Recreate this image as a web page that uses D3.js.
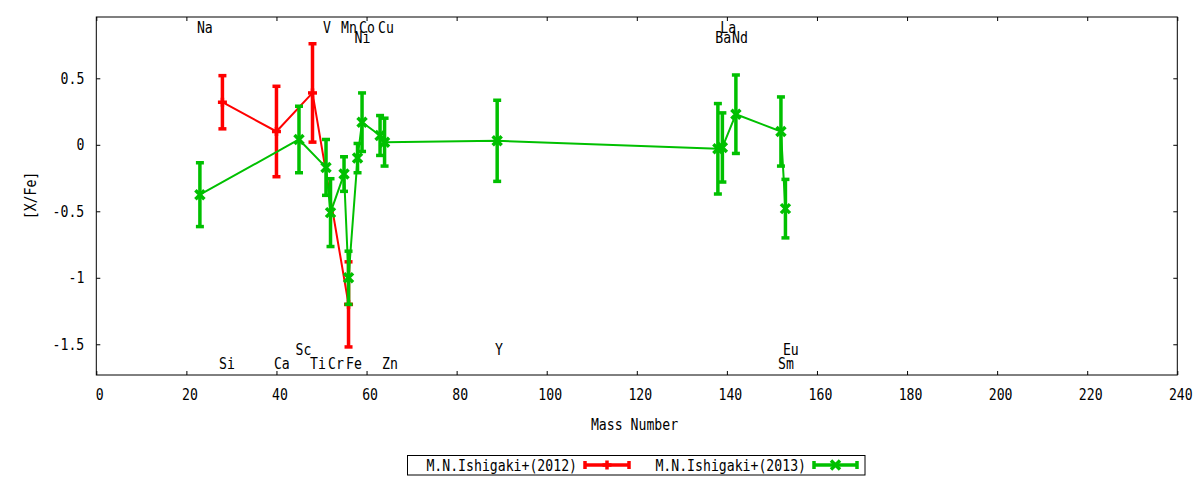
<!DOCTYPE html>
<html>
<head>
<meta charset="utf-8">
<script src="https://cdn.jsdelivr.net/npm/d3@7/dist/d3.min.js"></script>
<style>
  html, body { margin: 0; padding: 0; background: #fff; }
  svg { display: block; }
</style>
</head>
<body>
<svg id="chart" width="1200" height="480"></svg>
<script>
// ---------------- data ----------------
// M.N.Ishigaki+(2012)
const redElements = ["Si", "Ca", "Ti", "Fe"];
const redMass     = [28, 40, 48, 56];
const redValue    = [0.32, 0.10, 0.39, -1.20];
const redError    = [0.20, 0.34, 0.37, 0.32];

// M.N.Ishigaki+(2013)
const greenElements = ["Na", "Sc", "V", "Cr", "Mn", "Fe", "Ni", "Co", "Cu", "Zn", "Y", "Ba", "La", "Nd", "Sm", "Eu"];
const greenMass     = [23, 45, 51, 52, 55, 56, 58, 59, 63, 64, 89, 138, 139, 142, 152, 153];
const greenValue    = [-0.375, 0.04, -0.17, -0.51, -0.22, -1.00, -0.10, 0.17, 0.07, 0.02, 0.03, -0.03, -0.02, 0.23, 0.10, -0.48];
const greenError    = [0.24, 0.25, 0.21, 0.255, 0.13, 0.20, 0.11, 0.22, 0.15, 0.18, 0.305, 0.34, 0.26, 0.295, 0.26, 0.22];

// element labels (placed at mass number / [X/Fe] coordinates)
const labelText = ["Na", "V", "Mn", "Co", "Cu", "La", "Ni", "Ba", "Nd", "Si", "Ca", "Ti", "Cr", "Fe", "Zn", "Sm", "Sc", "Y", "Eu"];
const labelMass = [24.1, 51.2, 56.1, 60.1, 64.3, 140.3, 59.1, 139.2, 142.9, 29.0, 41.2, 49.2, 53.2, 57.2, 65.2, 153.1, 46.0, 89.4, 154.2];
const labelY    = [0.84, 0.84, 0.84, 0.84, 0.84, 0.84, 0.765, 0.765, 0.765, -1.686, -1.686, -1.686, -1.686, -1.686, -1.686, -1.686, -1.58, -1.58, -1.58];

const xTicks = [0, 20, 40, 60, 80, 100, 120, 140, 160, 180, 200, 220, 240];
const yTicks = [-1.5, -1, -0.5, 0, 0.5];
const xDomain = [0, 240];
const yDomain = [-1.731, 0.961];

const seriesNames = ["M.N.Ishigaki+(2012)", "M.N.Ishigaki+(2013)"];
const seriesColors = ["#ff0000", "#00c000"];

// ---------------- layout ----------------
const FONT = "'DejaVu Sans Mono', 'Liberation Mono', monospace";
const FS = 15.5, SX = 0.85;
const L = 96.3, R = 1177.3, T = 17, B = 375;

const svg = d3.select("#chart");
const x = d3.scaleLinear().domain(xDomain).range([L, R]);
const y = d3.scaleLinear().domain(yDomain).range([B, T]);

function label(g, tx, ty, str, anchor, rotate) {
  const t = g.append("text")
    .attr("transform", `translate(${tx},${ty})` + (rotate ? ` rotate(${rotate})` : "") + ` scale(${SX},1)`)
    .attr("text-anchor", anchor || "middle")
    .attr("font-family", FONT)
    .attr("font-size", FS)
    .attr("fill", "#000")
    .text(str);
  return t;
}

// axes
const axB = svg.append("g").attr("transform", `translate(0,${B})`)
  .call(d3.axisBottom(x).tickValues(xTicks).tickSizeInner(-4).tickSizeOuter(0).tickFormat(d => String(d)));
const axT = svg.append("g").attr("transform", `translate(0,${T})`)
  .call(d3.axisTop(x).tickValues(xTicks).tickSizeInner(-4).tickSizeOuter(0).tickFormat(""));
const axL = svg.append("g").attr("transform", `translate(${L},0)`)
  .call(d3.axisLeft(y).tickValues(yTicks).tickSizeInner(-4).tickSizeOuter(0).tickFormat(d => String(d)));
const axR = svg.append("g").attr("transform", `translate(${R},0)`)
  .call(d3.axisRight(y).tickValues(yTicks).tickSizeInner(-4).tickSizeOuter(0).tickFormat(""));

[axB, axT, axL, axR].forEach(a => {
  a.select(".domain").remove();
  a.selectAll(".tick line").attr("stroke", "#000").attr("stroke-width", 1);
});
axB.selectAll(".tick text")
  .attr("x", 3 / SX).attr("y", 25).attr("dy", null)
  .attr("transform", `scale(${SX},1)`)
  .attr("font-family", FONT).attr("font-size", FS).attr("fill", "#000");
axL.selectAll(".tick text")
  .attr("x", -12 / SX).attr("dy", "0.32em")
  .attr("transform", `scale(${SX},1)`)
  .attr("font-family", FONT).attr("font-size", FS).attr("fill", "#000");

// frame
svg.append("rect").attr("x", L).attr("y", T).attr("width", R - L).attr("height", B - T)
  .attr("fill", "none").attr("stroke", "#000").attr("stroke-width", 1);

// axis titles
label(svg, 634.5, 430, "Mass Number", "middle");
label(svg, 36, 195.5, "[X/Fe]", "middle", -90);

// element labels
const gl = svg.append("g");
labelText.forEach((s, i) => label(gl, x(labelMass[i]), y(labelY[i]), s, "middle"));

// series
function drawSeries(mass, val, err, color, marker) {
  const g = svg.append("g");
  const pts = mass.map((m, i) => ({ m, v: val[i], e: err[i] }));
  const line = d3.line().x(d => x(d.m)).y(d => y(d.v));
  g.append("path").datum(pts).attr("d", line)
    .attr("fill", "none").attr("stroke", color).attr("stroke-width", 2).attr("stroke-linejoin", "round");
  const cap = 4, lw = 3.5;
  pts.forEach(d => {
    const cx = x(d.m), y1 = y(d.v + d.e), y2 = y(d.v - d.e), cy = y(d.v);
    g.append("line").attr("x1", cx).attr("x2", cx).attr("y1", y1).attr("y2", y2)
      .attr("stroke", color).attr("stroke-width", lw);
    [y1, y2].forEach(yy => g.append("line").attr("x1", cx - cap).attr("x2", cx + cap).attr("y1", yy).attr("y2", yy)
      .attr("stroke", color).attr("stroke-width", lw));
    drawMarker(g, cx, cy, color, marker);
  });
}
function drawMarker(g, cx, cy, color, marker) {
  const s = 4.5;
  if (marker === "plus") {
    g.append("line").attr("x1", cx - s).attr("x2", cx + s).attr("y1", cy).attr("y2", cy)
      .attr("stroke", color).attr("stroke-width", 3.5);
    g.append("line").attr("x1", cx).attr("x2", cx).attr("y1", cy - s).attr("y2", cy + s)
      .attr("stroke", color).attr("stroke-width", 3.5);
  } else {
    g.append("path").attr("d", `M${cx - s},${cy - s}L${cx + s},${cy + s}M${cx - s},${cy + s}L${cx + s},${cy - s}`)
      .attr("stroke", color).attr("stroke-width", 3.5).attr("fill", "none");
  }
}

drawSeries(redMass, redValue, redError, seriesColors[0], "plus");
drawSeries(greenMass, greenValue, greenError, seriesColors[1], "cross");

// legend
const lg = svg.append("g");
lg.append("rect").attr("x", 407.5).attr("y", 455.5).attr("width", 457.5).attr("height", 19.5)
  .attr("fill", "#fff").attr("stroke", "#000").attr("stroke-width", 1);
const legendItems = [
  { textEnd: 577, x1: 585, x2: 629, marker: "plus" },
  { textEnd: 806, x1: 814, x2: 857, marker: "cross" }
];
legendItems.forEach((it, i) => {
  label(lg, it.textEnd, 470.5, seriesNames[i], "end");
  const c = seriesColors[i], ly = 465;
  lg.append("line").attr("x1", it.x1).attr("x2", it.x2).attr("y1", ly).attr("y2", ly)
    .attr("stroke", c).attr("stroke-width", 3.5);
  [it.x1, it.x2].forEach(xx => lg.append("line").attr("x1", xx).attr("x2", xx).attr("y1", ly - 4).attr("y2", ly + 4)
    .attr("stroke", c).attr("stroke-width", 3.5));
  drawMarker(lg, (it.x1 + it.x2) / 2, ly, c, it.marker);
});
</script>
</body>
</html>
